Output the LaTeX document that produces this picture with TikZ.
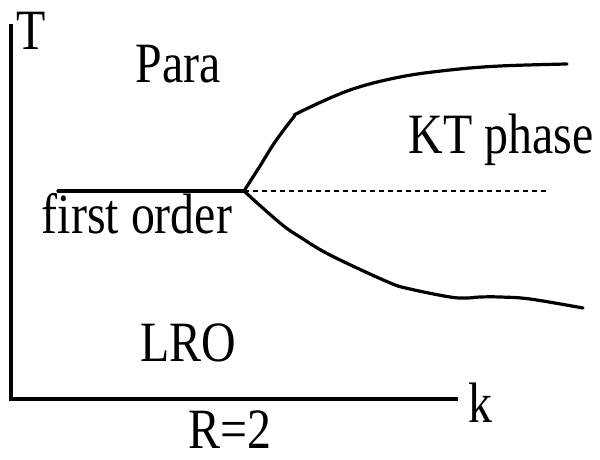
\documentclass[tikz,border=0pt]{standalone}
\usepackage{fontspec}
\setmainfont{Liberation Serif}
\newcommand{\narrowtxt}[1]{\scalebox{0.84}[1]{#1}}
\tikzset{
  lbl/.style={anchor=base, inner sep=0pt, text depth=0pt, font=\fontsize{57}{60}\selectfont},
  axisline/.style={line width=3.6pt, line cap=butt},
  phaseline/.style={line width=3.2pt, line cap=round, line join=round},
  dashline/.style={line width=1.1pt, dash pattern=on 5pt off 4pt}
}
\begin{document}
\begin{tikzpicture}[x=1pt, y=-1pt]
\useasboundingbox (0,0) rectangle (600,460);
% axes
\coordinate (ytop) at (11,24);
\coordinate (orig) at (11,399);
\coordinate (xend) at (458,399);
\draw[axisline] (ytop) -- (orig) -- (xend);
% labels
\node[lbl] (T) at (31,50) {\narrowtxt{T}};
\node[lbl] (k) at (480,422) {\narrowtxt{k}};
\node[lbl] (R) at (230,448) {\narrowtxt{R=2}};
\node[lbl] (para) at (178,83) {\narrowtxt{Para}};
\node[lbl] (kt) at (501,153) {\narrowtxt{KT phase}};
\node[lbl] (fo) at (137,233) {\narrowtxt{first order}};
\node[lbl] (lro) at (188,361) {\narrowtxt{LRO}};
% phase boundaries
\coordinate (start) at (58,191);
\coordinate (J) at (244,191);
\coordinate (dend) at (547,191);
\draw[phaseline] (start) -- (J);
\draw[dashline] (J) -- (dend);
\draw[phaseline] plot[smooth, tension=0.6] coordinates {(244,191) (260,166) (275,142) (293,118) (300,112) (350,90) (400,77) (450,70) (500,66) (567,64)};
\draw[phaseline] plot[smooth, tension=0.6] coordinates {(244,191) (265,210) (285,227) (300,237) (330,255) (388,282) (410,289) (450,297) (467,298) (480,297) (500,297) (530,299) (583,308)};
\end{tikzpicture}
\end{document}
